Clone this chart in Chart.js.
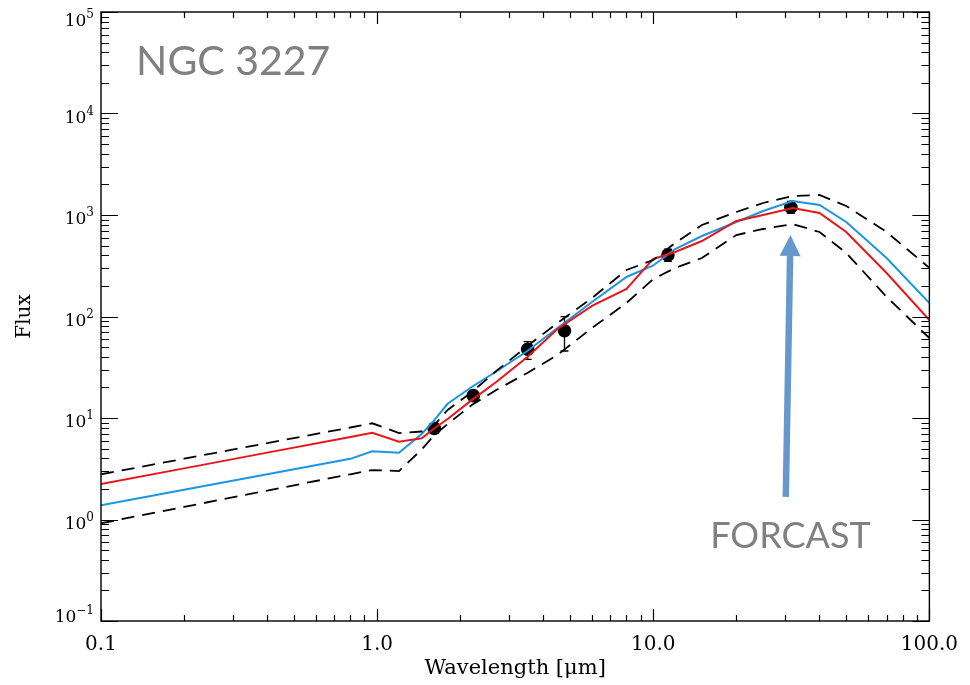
<!DOCTYPE html>
<html>
<head>
<meta charset="utf-8">
<script src="https://cdn.jsdelivr.net/npm/chart.js@4.4.1/dist/chart.umd.min.js"></script>
<style>
  html, body { margin: 0; padding: 0; background: #fff; }
</style>
</head>
<body>
<canvas id="sed" width="970" height="685"></canvas>
<script>
// ======================================================
// Datos: modelos SED y fotometria de NGC 3227
// ======================================================

// malla de longitudes de onda de los modelos (micras)
const wavelength = [0.1, 0.2, 0.4, 0.8, 0.96, 1.2, 1.45, 1.6, 1.8, 2.2, 2.7, 3.5, 4.5, 6, 8, 10, 12, 15, 20, 25, 32, 40, 50, 70, 100];

const fluxRed   = [2.24, 3.19, 4.56, 6.51, 7.16, 5.84, 6.31, 7.79, 9.78, 15.0, 22.6, 39.9, 75.3, 127, 187, 369, 432, 554, 873, 1000, 1172, 1047, 680, 268, 92.4];
const fluxBlue  = [1.38, 1.96, 2.79, 3.96, 4.70, 4.55, 6.95, 9.33, 13.8, 20.2, 28.7, 45.7, 77.1, 139, 245, 318, 462, 621, 853, 1094, 1374, 1256, 853, 377, 136];
const fluxUpper = [2.79, 3.97, 5.66, 8.06, 8.87, 7.11, 7.36, 8.34, 12.0, 18.0, 29.0, 51.2, 86.3, 152, 287, 360, 530, 797, 1071, 1313, 1538, 1574, 1227, 680, 301];
const fluxLower = [0.918, 1.33, 1.93, 2.79, 3.07, 3.00, 4.89, 6.65, 8.73, 13.4, 18.9, 27.8, 41.8, 77.1, 136, 234, 301, 377, 635, 728, 815, 680, 423, 156, 61.4];

// fotometria observada con barras de error
const obsWave = [1.61, 2.23, 3.51, 4.77, 11.3, 31.5];
const obsFlux = [7.9, 16.6, 47.5, 72.4, 403, 1191];
const obsLow  = [7.2, 15.2, 37.8, 45.7, 350, 1040];
const obsHigh = [8.7, 18.1, 56.5, 99.6, 460, 1360];

// ticks mayores
const xMajor = [0.1, 1, 10, 100];
const yMajor = [1e-1, 1e0, 1e1, 1e2, 1e3, 1e4, 1e5];

// flecha FORCAST (base -> punta) en coordenadas de datos
const arrowWave = [30.2, 31.4];
const arrowFlux = [1.67, 635];

// ======================================================
// Utilidades
// ======================================================
const serif = "'DejaVu Serif', serif";

function toPoints(xs, ys) {
  return xs.map((x, i) => ({ x: x, y: ys[i] }));
}

// todos los ticks de cada decada (1..9 x 10^n)
function decadeTicks(min, max) {
  const out = [];
  for (let e = Math.floor(Math.log10(min)); e <= Math.ceil(Math.log10(max)); e++) {
    for (let k = 1; k <= 9; k++) {
      const v = k * Math.pow(10, e);
      if (v >= min * 0.999 && v <= max * 1.001) out.push({ v: v, major: k === 1 });
    }
  }
  return out;
}

// ======================================================
// Plugin: barras de error
// ======================================================
const errorBars = {
  id: "errorBars",
  beforeDatasetsDraw(chart) {
    const { ctx, scales: { x, y } } = chart;
    ctx.save();
    ctx.strokeStyle = "#000";
    ctx.lineWidth = 1.3;
    ctx.beginPath();
    obsWave.forEach((w, i) => {
      const px = x.getPixelForValue(w);
      const lo = y.getPixelForValue(obsLow[i]);
      const hi = y.getPixelForValue(obsHigh[i]);
      ctx.moveTo(px, lo); ctx.lineTo(px, hi);
      ctx.moveTo(px - 4, lo); ctx.lineTo(px + 4, lo);
      ctx.moveTo(px - 4, hi); ctx.lineTo(px + 4, hi);
    });
    ctx.stroke();
    ctx.restore();
  }
};

// ======================================================
// Plugin: marco, ticks hacia dentro, etiquetas 10^n, flecha y textos
// ======================================================
const frameAndNotes = {
  id: "frameAndNotes",
  afterDraw(chart) {
    const { ctx, chartArea: a, scales: { x, y } } = chart;
    ctx.save();

    // marco
    ctx.strokeStyle = "#000";
    ctx.lineWidth = 1.4;
    ctx.strokeRect(a.left, a.top, a.right - a.left, a.bottom - a.top);

    // ticks en los cuatro lados
    ctx.lineWidth = 1.2;
    ctx.beginPath();
    decadeTicks(x.min, x.max).forEach((t) => {
      const px = Math.round(x.getPixelForValue(t.v)) + 0.5;
      const len = t.major ? 12 : 6;
      ctx.moveTo(px, a.bottom); ctx.lineTo(px, a.bottom - len);
      ctx.moveTo(px, a.top); ctx.lineTo(px, a.top + len);
    });
    decadeTicks(y.min, y.max).forEach((t) => {
      const py = Math.round(y.getPixelForValue(t.v)) + 0.5;
      const len = t.major ? 17 : 8;
      ctx.moveTo(a.left, py); ctx.lineTo(a.left + len, py);
      ctx.moveTo(a.right, py); ctx.lineTo(a.right - len, py);
    });
    ctx.stroke();

    // etiquetas del eje y: "10" con exponente elevado
    ctx.fillStyle = "#000";
    ctx.textBaseline = "alphabetic";
    ctx.textAlign = "left";
    const right = a.left - 7;
    yMajor.forEach((v, i) => {
      let py = y.getPixelForValue(v);
      if (i === 0) py -= 8;                       // la ultima no pisa el eje x
      if (i === yMajor.length - 1) py += 5;       // la primera queda dentro
      const e = String(Math.round(Math.log10(v))).replace("-", "\u2212");
      ctx.font = "12px " + serif;
      const ew = ctx.measureText(e).width;
      ctx.fillText(e, right - ew, py + 1);
      ctx.font = "17px " + serif;
      const bw = ctx.measureText("10").width;
      ctx.fillText("10", right - ew - bw, py + 9);
    });

    // flecha FORCAST
    const x0 = x.getPixelForValue(arrowWave[0]);
    const y0 = y.getPixelForValue(arrowFlux[0]);
    const x1 = x.getPixelForValue(arrowWave[1]);
    const y1 = y.getPixelForValue(arrowFlux[1]);
    const ang = Math.atan2(y1 - y0, x1 - x0);
    const head = 21, half = 10.5;
    const bx = x1 - head * Math.cos(ang), by = y1 - head * Math.sin(ang);
    ctx.strokeStyle = "#6698cc";
    ctx.fillStyle = "#6698cc";
    ctx.lineWidth = 6.5;
    ctx.lineCap = "butt";
    ctx.beginPath();
    ctx.moveTo(x0, y0);
    ctx.lineTo(bx, by);
    ctx.stroke();
    ctx.beginPath();
    ctx.moveTo(x1, y1);
    ctx.lineTo(bx + half * Math.sin(ang), by - half * Math.cos(ang));
    ctx.lineTo(bx - half * Math.sin(ang), by + half * Math.cos(ang));
    ctx.closePath();
    ctx.fill();

    // etiquetas
    ctx.fillStyle = "#808080";
    ctx.textBaseline = "middle";
    ctx.font = "41px Lato";
    ctx.textAlign = "left";
    ctx.fillText("NGC 3227", x.getPixelForValue(0.134), y.getPixelForValue(32500));
    ctx.font = "36px Lato";
    ctx.textAlign = "center";
    ctx.fillText("FORCAST", x.getPixelForValue(arrowWave[1]), y.getPixelForValue(0.68));

    ctx.restore();
  }
};

// ======================================================
// Grafico
// ======================================================
new Chart(document.getElementById("sed"), {
  type: "scatter",
  data: {
    datasets: [
      {
        label: "upper",
        data: toPoints(wavelength, fluxUpper),
        showLine: true, borderColor: "#000", borderWidth: 1.8, borderDash: [13, 8],
        pointRadius: 0, order: 1
      },
      {
        label: "lower",
        data: toPoints(wavelength, fluxLower),
        showLine: true, borderColor: "#000", borderWidth: 1.8, borderDash: [13, 8],
        pointRadius: 0, order: 1
      },
      {
        label: "model red",
        data: toPoints(wavelength, fluxRed),
        showLine: true, borderColor: "#e8161b", borderWidth: 2,
        pointRadius: 0, order: 2
      },
      {
        label: "model blue",
        data: toPoints(wavelength, fluxBlue),
        showLine: true, borderColor: "#1b97e2", borderWidth: 2,
        pointRadius: 0, order: 3
      },
      {
        label: "obs",
        data: toPoints(obsWave, obsFlux),
        showLine: false, pointRadius: 6.8, pointBackgroundColor: "#000",
        pointBorderColor: "#000", pointBorderWidth: 0, order: 10
      }
    ]
  },
  options: {
    responsive: false,
    animation: false,
    devicePixelRatio: 1,
    layout: { padding: { top: 12, right: 38, left: 0, bottom: 0 } },
    plugins: {
      legend: { display: false },
      tooltip: { enabled: false }
    },
    scales: {
      x: {
        type: "logarithmic",
        min: 0.1,
        max: 100,
        grid: { display: false, drawTicks: false },
        border: { display: false },
        afterBuildTicks: (s) => { s.ticks = xMajor.map((v) => ({ value: v })); },
        afterFit: (s) => { s.height = 64; },
        ticks: {
          autoSkip: false,
          maxRotation: 0,
          padding: 12,
          color: "#000",
          font: { family: serif, size: 20 },
          callback: (v) => Number(v).toFixed(1)
        },
        title: {
          display: true,
          text: "Wavelength [\u03BCm]",
          color: "#000",
          font: { family: serif, size: 21 },
          padding: { top: 0, bottom: 4 }
        }
      },
      y: {
        type: "logarithmic",
        min: 0.1,
        max: 1e5,
        grid: { display: false, drawTicks: false },
        border: { display: false },
        afterBuildTicks: (s) => { s.ticks = yMajor.map((v) => ({ value: v })); },
        afterFit: (s) => { s.width = 101; },
        ticks: { display: false },
        title: {
          display: true,
          text: "Flux",
          color: "#000",
          font: { family: serif, size: 20 },
          padding: { top: 13, bottom: 0 }
        }
      }
    }
  },
  plugins: [errorBars, frameAndNotes]
});
</script>
</body>
</html>
